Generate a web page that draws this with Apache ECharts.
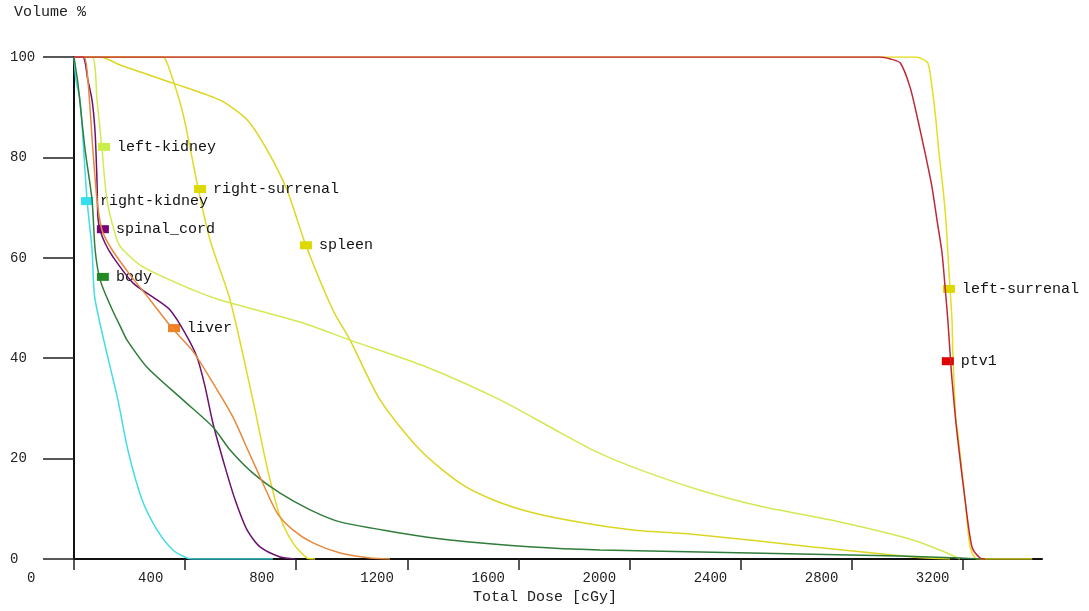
<!DOCTYPE html>
<html>
<head>
<meta charset="utf-8">
<script src="https://cdn.jsdelivr.net/npm/echarts@6/dist/echarts.min.js"></script>
<style>
html,body{margin:0;padding:0;background:#fff;}
#chart{width:1089px;height:611px;}
</style>
</head>
<body>
<div id="chart"></div>
<script>
// ---- data (dose cGy, volume %) ----
const xTicks = [0, 400, 800, 1200, 1600, 2000, 2400, 2800, 3200];
const yTicks = [0, 20, 40, 60, 80, 100];

const ptv1 = [[0,100],[2900,100],[2940,99.6],[2975,98.8],[3010,94],[3038,87.5],[3064,80.9],[3089,74.1],[3107,67.5],[3125,61],[3136,54.2],[3146,47.6],[3154,41],[3161,35.7],[3179,25.1],[3208,11.8],[3233,2.4],[3262,0.2],[3280,0]];
const leftSurrenal = [[0,100],[3028,100],[3046,99.8],[3074,98.8],[3089,94],[3103,87.5],[3114,80.9],[3128,74.1],[3139,67.5],[3146,61],[3154,53.8],[3161,47.6],[3164,41],[3175,27.7],[3182,25.1],[3208,11.8],[3226,2.4],[3244,0.2],[3260,0],[3450,0]];
const spleen = [[0,100],[94,100],[166,98.4],[356,94.8],[526,91.4],[623,87.5],[695,81.5],[767,73.5],[832,62.9],[932,49.6],[994,43.6],[1102,31.7],[1246,21.7],[1390,15.1],[1508,11.8],[1652,9.2],[1832,7.2],[2012,5.8],[2254,4.8],[2660,2.4],[3020,0.4],[3154,0]];
const rightSurrenal = [[0,100],[320,100],[338,98.4],[392,88.8],[443,74.9],[490,63.5],[562,51.6],[644,31.7],[695,18.3],[742,8.4],[788,3.2],[839,0.2],[868,0]];
const leftKidney = [[0,100],[65,100],[83,91.4],[101,81.5],[119,71.5],[155,63.5],[176,61.6],[248,58.2],[428,53.6],[526,51.6],[814,47.2],[994,43.6],[1271,38.2],[1534,31.7],[1714,26.3],[1868,21.7],[2012,18.3],[2254,13.7],[2480,10.4],[2722,7.8],[3020,3.8],[3143,1.2],[3190,0]];
const rightKidney = [[0,100],[7,95.4],[22,91.4],[47,71.5],[65,61.6],[76,51.6],[158,31.7],[194,21.7],[245,11.8],[299,5.8],[356,1.8],[407,0.2],[430,0],[716,0]];
const spinalCord = [[0,100],[32,100],[50,95.4],[65,91.4],[76,84.9],[83,74.9],[86,68.1],[94,65.5],[112,62.9],[140,60.2],[212,55],[299,51.6],[346,49.6],[400,45],[443,40.2],[472,34.3],[500,27.1],[544,18.3],[580,11.8],[623,5.8],[670,2.4],[742,0.4],[796,0]];
const body = [[0,100],[7,97.4],[14,94.8],[40,81.5],[65,71.5],[76,61.6],[94,55.6],[130,50.6],[173,45.6],[191,43.6],[263,38.2],[392,31.7],[500,26.3],[562,21.7],[644,17.1],[742,13.1],[850,9.8],[958,7.4],[1174,5.2],[1354,3.8],[1652,2.4],[1894,1.8],[2254,1.4],[2614,1.0],[2974,0.6],[3190,0.2],[3262,0]];
const liver = [[0,100],[36,100],[50,95.4],[68,81.5],[83,71.5],[101,65.5],[137,61.6],[202,56.6],[274,51.6],[353,46],[425,41.6],[500,35.1],[572,28.3],[626,21.7],[680,15.1],[731,9.2],[788,5.8],[860,3.2],[958,1.2],[1066,0.2],[1138,0]];

// label marker positions (dose, volume)
const seriesNames = ['left-surrenal','spleen','right-surrenal','left-kidney','right-kidney','spinal_cord','body','liver','ptv1'];
const markerDose = [3150, 835, 454, 108, 47, 104, 104, 360, 3146];
const markerVol  = [53.8, 62.5, 73.7, 82.1, 71.3, 65.7, 56.2, 46, 39.4];

const seriesData = [leftSurrenal, spleen, rightSurrenal, leftKidney, rightKidney, spinalCord, body, liver, ptv1];
const lineColors = ['#e4de1e','#dcd620','#e0da22','#d2ea52','#40dce8','#6a1070','#2f7d3a','#e8883a','#c02838'];
const markColors = ['#dcd800','#dcd800','#dcd800','#c8ee48','#30e0f0','#7a007a','#228b22','#f08020','#e00000'];

const FONT = "'Liberation Mono', 'DejaVu Sans Mono', monospace";

const chart = echarts.init(document.getElementById('chart'), null, {renderer: 'canvas'});

const series = seriesNames.map((name, i) => ({
  name: name,
  type: 'line',
  data: seriesData[i],
  showSymbol: false,
  smooth: 0.25,
  lineStyle: {color: lineColors[i], width: 1.5},
  itemStyle: {color: lineColors[i]},
  z: 2 + i,
  markPoint: {
    symbol: 'rect',
    symbolSize: [12, 8],
    itemStyle: {color: markColors[i]},
    label: {
      show: true,
      position: 'right',
      distance: 7,
      formatter: name,
      color: '#111',
      fontFamily: FONT,
      fontSize: 15
    },
    data: [{coord: [markerDose[i], markerVol[i]]}]
  }
}));

chart.setOption({
  animation: false,
  backgroundColor: '#fff',
  title: {
    text: 'Volume %',
    left: 9,
    top: 0,
    textStyle: {fontFamily: FONT, fontSize: 15, fontWeight: 'normal', color: '#222'}
  },
  grid: {left: 74, right: 47, top: 57, bottom: 52, containLabel: false},
  xAxis: {
    type: 'value',
    min: 0,
    max: 3485,
    interval: 400,
    name: 'Total Dose [cGy]',
    nameLocation: 'middle',
    nameGap: 29,
    nameTextStyle: {fontFamily: FONT, fontSize: 15, color: '#222', padding: [0, 26, 0, 0]},
    axisLine: {show: true, lineStyle: {color: '#111', width: 2}},
    axisTick: {show: true, length: 11, lineStyle: {color: '#222', width: 1.5}, customValues: xTicks},
    axisLabel: {
      customValues: xTicks,
      margin: 12,
      align: 'right',
      formatter: v => '{a|' + v + '}',
      rich: {a: {width: 47, align: 'left', fontFamily: FONT, fontSize: 14, color: '#222'}},
      fontFamily: FONT, fontSize: 14, color: '#222'
    },
    splitLine: {show: false}
  },
  yAxis: {
    type: 'value',
    min: 0,
    max: 100,
    interval: 20,
    axisLine: {show: true, lineStyle: {color: '#111', width: 2}},
    axisTick: {show: true, length: 31, lineStyle: {color: '#222', width: 1.5}},
    axisLabel: {
      margin: 64,
      align: 'left',
      padding: [0, 0, 9, 0],
      fontFamily: FONT, fontSize: 14, color: '#222'
    },
    splitLine: {show: false}
  },
  series: series
});
</script>
</body>
</html>
